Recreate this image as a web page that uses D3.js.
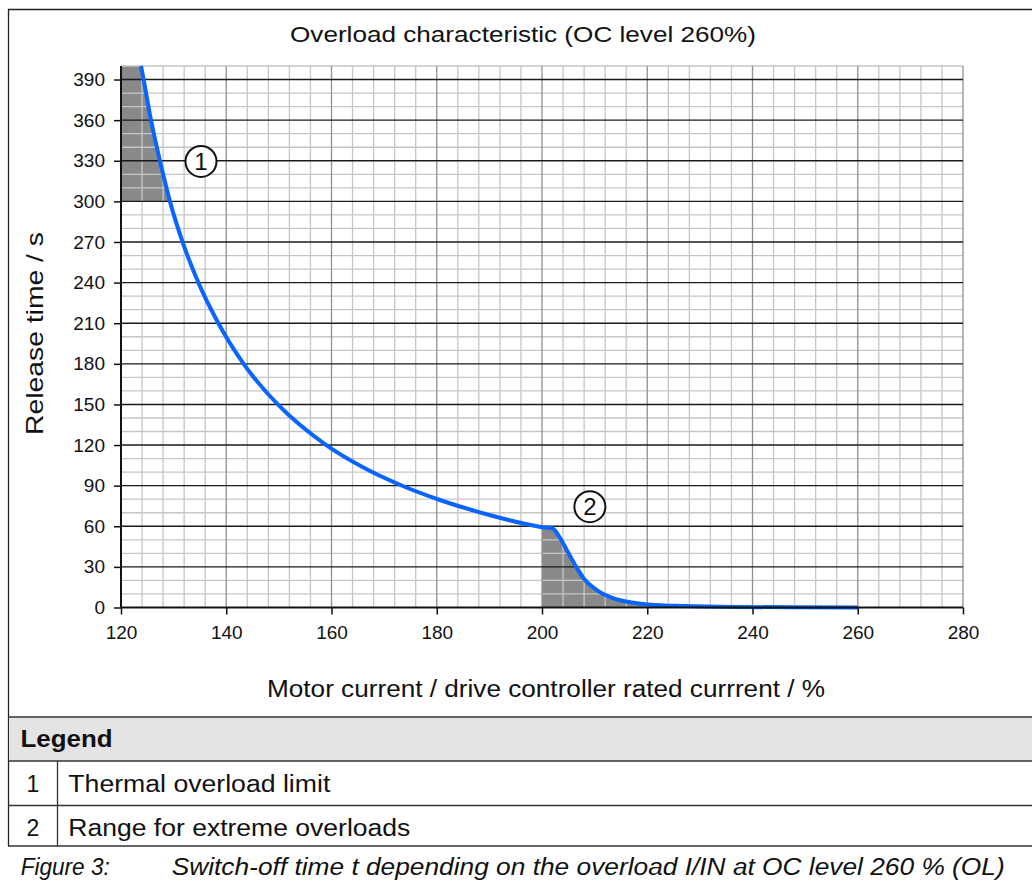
<!DOCTYPE html>
<html>
<head>
<meta charset="utf-8">
<script src="https://cdn.jsdelivr.net/npm/d3@7"></script>
<style>
  html, body { margin: 0; padding: 0; background: #fff; }
  svg { display: block; font-family: "Liberation Sans", Arial, sans-serif; }
</style>
</head>
<body>
<svg id="chart" width="1032" height="881"></svg>
<script>
// ---- data ----
const titleText = "Overload characteristic (OC level 260%)";
const xLabelText = "Motor current / drive controller rated currrent / %";
const yLabelText = "Release time / s";
const xTicks = [120, 140, 160, 180, 200, 220, 240, 260, 280];
const yTicks = [0, 30, 60, 90, 120, 150, 180, 210, 240, 270, 300, 330, 360, 390];
const currentPct = [123.8, 124.3, 125.7, 127.4, 129.3, 131.7, 134.7, 138.5, 143.3, 149.8, 159.0, 165.8, 173.1, 180.6, 190.0, 196.5, 200.0, 201.9, 203.5, 204.7, 206.3, 207.9, 210.4, 213.6, 217.4, 220.6, 226.9, 236.4, 248.0, 260.0];
const releaseTime = [400, 390, 360, 330, 300, 270, 240, 210, 180, 150, 120, 104, 90.5, 79.4, 68.3, 62, 59.3, 58.5, 51, 42.5, 31.4, 21.6, 12.9, 6.8, 3.5, 2.1, 1.1, 0.4, 0.15, 0.05];
const markerLabels = ["1", "2"];
const markerI = [135.2, 209.1];
const markerT = [329.5, 74.5];
const legendNums = ["1", "2"];
const legendTexts = ["Thermal overload limit", "Range for extreme overloads"];
const captionLabel = "Figure 3:";
const captionText = "Switch-off time t depending on the overload I/IN at OC level 260 % (OL)";

// ---- layout ----
const svg = d3.select("#chart");
const x = d3.scaleLinear().domain([120, 280]).range([121, 963]);
const y = d3.scaleLinear().domain([0, 400]).range([607.5, 66]);
const pts = currentPct.map((I, i) => ({I, t: releaseTime[i]}));
const INK = "#111";

// helper: text stretched to a measured width (the source font is wide)
function wideText(sel, str, x0, yb, size, width, opts = {}) {
  const t = sel.append("text").attr("x", x0).attr("y", yb)
    .attr("font-size", size).attr("fill", INK)
    .attr("textLength", width).attr("lengthAdjust", "spacingAndGlyphs").text(str);
  if (opts.weight) t.attr("font-weight", opts.weight);
  if (opts.style) t.attr("font-style", opts.style);
  if (opts.transform) t.attr("transform", opts.transform);
  return t;
}

// frame
svg.append("line").attr("x1", 8.5).attr("x2", 8.5).attr("y1", 9).attr("y2", 846).attr("stroke", "#222").attr("stroke-width", 1.3);
svg.append("line").attr("x1", 8).attr("x2", 1032).attr("y1", 9.5).attr("y2", 9.5).attr("stroke", "#222").attr("stroke-width", 1.3);

// title
wideText(svg, titleText, 290, 42, 22, 466);

// shaded regions
const region1 = pts.filter(d => d.t >= 300);
svg.append("path").datum(region1)
  .attr("d", d3.area().y(d => y(d.t)).x0(x(120)).x1(d => x(d.I)).curve(d3.curveMonotoneY))
  .attr("fill", "#898989");
const region2 = pts.filter(d => d.I >= 200);
svg.append("path").datum(region2)
  .attr("d", d3.area().x(d => x(d.I)).y0(y(0)).y1(d => y(d.t)).curve(d3.curveMonotoneX))
  .attr("fill", "#898989");

// grid
const g = svg.append("g");
const vMinor = d3.range(120, 281, 4).filter(v => v % 20 !== 0);
const vMajor = d3.range(140, 281, 20);
const hMinor = d3.range(10, 401, 10).filter(v => v % 30 !== 0);
const hMajor = d3.range(30, 391, 30);
g.selectAll(".vmin").data(vMinor).join("line")
  .attr("x1", d => x(d)).attr("x2", d => x(d)).attr("y1", y(0)).attr("y2", y(400))
  .attr("stroke", "#c6c6c6").attr("stroke-width", 1.3);
g.selectAll(".hmin").data(hMinor).join("line")
  .attr("x1", x(120)).attr("x2", x(280)).attr("y1", d => y(d)).attr("y2", d => y(d))
  .attr("stroke", "#c6c6c6").attr("stroke-width", 1.3);
g.selectAll(".vmaj").data(vMajor).join("line")
  .attr("x1", d => x(d)).attr("x2", d => x(d)).attr("y1", y(0)).attr("y2", y(400))
  .attr("stroke", "#909090").attr("stroke-width", 1.3);
g.selectAll(".hmaj").data(hMajor).join("line")
  .attr("x1", x(120)).attr("x2", x(280)).attr("y1", d => y(d)).attr("y2", d => y(d))
  .attr("stroke", "#1a1a1a").attr("stroke-width", 1.4);

// curve
svg.append("path").datum(pts)
  .attr("d", d3.line().x(d => x(d.I)).y(d => y(d.t)).curve(d3.curveMonotoneX))
  .attr("fill", "none").attr("stroke", "#0a64ff").attr("stroke-width", 4)
  .attr("stroke-linejoin", "round");

// axes
const xAxis = svg.append("g").attr("transform", `translate(0,${y(0)})`)
  .call(d3.axisBottom(x).tickValues(xTicks).tickSize(7).tickPadding(11).tickFormat(d3.format("d")));
const yAxis = svg.append("g").attr("transform", `translate(${x(120)},0)`)
  .call(d3.axisLeft(y).tickValues(yTicks).tickSize(7).tickPadding(9).tickFormat(d3.format("d")));
[xAxis, yAxis].forEach(a => {
  a.select(".domain").remove();
  a.selectAll(".tick line").attr("stroke", INK).attr("stroke-width", 1.5);
  a.selectAll(".tick text").attr("font-size", 19).attr("fill", INK)
    .attr("font-family", "'Liberation Sans', Arial, sans-serif");
});
svg.append("line").attr("x1", x(120)).attr("x2", x(280)).attr("y1", y(0)).attr("y2", y(0)).attr("stroke", INK).attr("stroke-width", 2);
svg.append("line").attr("x1", x(120)).attr("x2", x(120)).attr("y1", y(0)).attr("y2", y(400)).attr("stroke", INK).attr("stroke-width", 2);

// axis labels
wideText(svg, xLabelText, 267, 697, 23, 558);
wideText(svg, yLabelText, 0, 0, 24, 203, {transform: "translate(43,435) rotate(-90)"});

// markers
markerLabels.forEach((lab, i) => {
  const cx = x(markerI[i]), cy = y(markerT[i]);
  svg.append("circle").attr("cx", cx).attr("cy", cy).attr("r", 15.5)
    .attr("fill", "#fff").attr("stroke", INK).attr("stroke-width", 2);
  svg.append("text").attr("x", cx).attr("y", cy + 8.5).attr("text-anchor", "middle")
    .attr("font-size", 24).attr("fill", INK).text(lab);
});

// legend table
svg.append("rect").attr("x", 9).attr("y", 717).attr("width", 1023).attr("height", 44).attr("fill", "#e4e4e4");
[717, 761, 805.5, 846].forEach(yy => {
  svg.append("line").attr("x1", 8).attr("x2", 1032).attr("y1", yy).attr("y2", yy)
    .attr("stroke", "#333").attr("stroke-width", 1.3);
});
svg.append("line").attr("x1", 57.5).attr("x2", 57.5).attr("y1", 761).attr("y2", 846).attr("stroke", "#333").attr("stroke-width", 1.3);
wideText(svg, "Legend", 20.5, 747, 23, 92, {weight: "bold"});
const legendWidths = [262, 342];
legendNums.forEach((n, i) => {
  const by = [791.5, 835.5][i];
  svg.append("text").attr("x", 33).attr("y", by).attr("text-anchor", "middle").attr("font-size", 23).attr("fill", INK).text(n);
  wideText(svg, legendTexts[i], 68.3, by, 23, legendWidths[i]);
});
wideText(svg, captionLabel, 20.7, 875, 23, 89, {style: "italic"});
wideText(svg, captionText, 171.7, 875, 23, 833, {style: "italic"});
</script>
</body>
</html>
